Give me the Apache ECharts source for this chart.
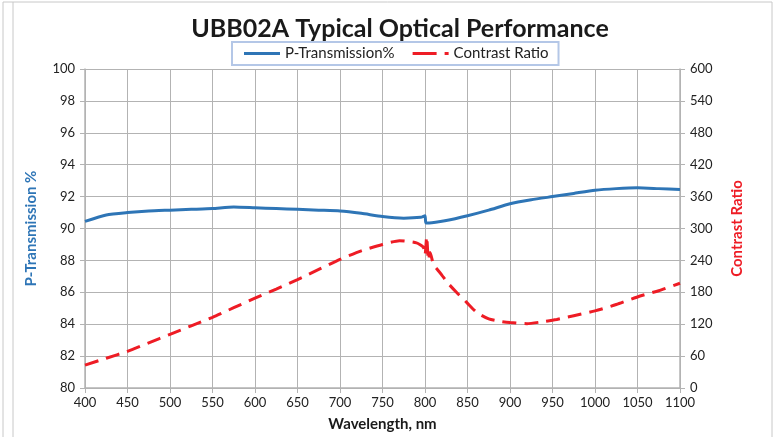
<!DOCTYPE html>
<html><head><meta charset="utf-8">
<script src="https://cdn.jsdelivr.net/npm/echarts@6/dist/echarts.min.js"></script>
<style>html,body{margin:0;padding:0;background:#fff}#c{width:778px;height:437px}</style>
</head><body><div id="c"></div>
<script>
const transWavelength = [400,425,450,475,500,525,550,575,600,625,650,675,700,725,750,775,795,800,801,805,825,850,875,900,925,950,975,1000,1025,1050,1075,1100];
const transmission   = [90.45,90.85,91.0,91.1,91.15,91.2,91.25,91.35,91.3,91.25,91.2,91.15,91.1,90.95,90.75,90.65,90.7,90.8,90.35,90.35,90.5,90.8,91.15,91.55,91.8,92.0,92.2,92.4,92.5,92.55,92.5,92.45];
const contrastWavelength = [400,425,450,475,500,525,550,575,600,625,650,675,700,725,750,770,790,798,800,802,804,806,810,815,820,826,837,849,861,875,890,900,920,940,955,975,1000,1025,1053,1075,1100];
const contrastRatio = [43,56,69,85,101,117,133,151,169,186,204,223,242,258,270,277,273,265,250,285,240,255,232,222,212,199,180,161,142,130,125,123,121,125,129,136,145,157,173,183,197];
const xTicks = {min:400,max:1100,interval:50};
const leftTicks = {min:80,max:100,interval:2};
const rightTicks = {min:0,max:600,interval:60};

const font = 'Lato, "Open Sans", sans-serif';
const chart = echarts.init(document.getElementById('c'), null, {renderer:'canvas'});
const gridColor = '#b3b3b3';
chart.setOption({
  animation:false,
  backgroundColor:'#fff',
  title:{text:'UBB02A Typical Optical Performance',left:395,textAlign:'center',top:11,
    textStyle:{fontFamily:font,fontWeight:'bold',fontSize:25,color:'#1a1a1a'}},
  legend:{top:42,left:232,itemWidth:36,itemHeight:3,itemGap:18,padding:[4,10,4,12],
    borderColor:'#b4c7e7',borderWidth:2,
    textStyle:{fontFamily:font,fontSize:15,color:'#222'},
    data:[
      {name:'P-Transmission%',icon:'path://M0,0h36v3H0z'},
      {name:'Contrast Ratio',icon:'path://M0,0h24v3H0z M32,0h4v3h-4z'}
    ]},
  grid:{left:85,right:98,top:69,bottom:48,containLabel:false},
  xAxis:{type:'value',min:xTicks.min,max:xTicks.max,interval:xTicks.interval,
    name:'Wavelength, nm',nameLocation:'middle',nameGap:29,
    nameTextStyle:{fontFamily:font,fontWeight:'bold',fontSize:15,color:'#1a1a1a'},
    axisLine:{lineStyle:{color:gridColor,width:1.5}},
    axisTick:{show:true,inside:false,length:5,lineStyle:{color:gridColor}},
    axisLabel:{fontFamily:font,fontSize:13,color:'#222',margin:8,formatter:v=>String(v)},
    splitLine:{show:true,lineStyle:{color:gridColor,width:1}}},
  yAxis:[
    {type:'value',min:leftTicks.min,max:leftTicks.max,interval:leftTicks.interval,position:'left',
      name:'P-Transmission %',nameLocation:'middle',nameGap:46,
      nameTextStyle:{fontFamily:font,fontWeight:'bold',fontSize:15,color:'#2e75b6'},
      axisLine:{show:true,lineStyle:{color:gridColor,width:1.5}},
      axisTick:{show:true,length:5,lineStyle:{color:gridColor}},
      axisLabel:{fontFamily:font,fontSize:13,color:'#222',margin:10},
      splitLine:{show:true,lineStyle:{color:gridColor,width:1}}},
    {type:'value',min:rightTicks.min,max:rightTicks.max,interval:rightTicks.interval,position:'right',
      name:'Contrast Ratio',nameLocation:'middle',nameGap:50,nameRotate:90,
      nameTextStyle:{fontFamily:font,fontWeight:'bold',fontSize:15,color:'#ee1c25'},
      axisLine:{show:true,lineStyle:{color:gridColor,width:1.5}},
      axisTick:{show:true,length:5,lineStyle:{color:gridColor}},
      axisLabel:{fontFamily:font,fontSize:13,color:'#222',margin:10},
      splitLine:{show:false}}
  ],
  series:[
    {name:'P-Transmission%',type:'line',yAxisIndex:0,showSymbol:false,symbol:'none',smooth:0.2,
      data:transWavelength.map((w,i)=>[w,transmission[i]]),
      lineStyle:{color:'#2e75b6',width:3},itemStyle:{color:'#2e75b6'}},
    {name:'Contrast Ratio',type:'line',yAxisIndex:1,showSymbol:false,symbol:'none',smooth:0.2,
      data:contrastWavelength.map((w,i)=>[w,contrastRatio[i]]),
      lineStyle:{color:'#ee1c25',width:3,type:[14,8]},itemStyle:{color:'#ee1c25'}}
  ],
  graphic:[
    {type:'line',shape:{x1:3,y1:2,x2:3,y2:437},style:{stroke:'#c8c8c8',lineWidth:1}},
    {type:'line',shape:{x1:13,y1:2,x2:13,y2:437},style:{stroke:'#c8c8c8',lineWidth:1}},
    {type:'line',shape:{x1:3,y1:2,x2:772,y2:2},style:{stroke:'#c8c8c8',lineWidth:1}},
    {type:'line',shape:{x1:772,y1:2,x2:772,y2:437},style:{stroke:'#c8c8c8',lineWidth:1}}
  ]
});
</script></body></html>
